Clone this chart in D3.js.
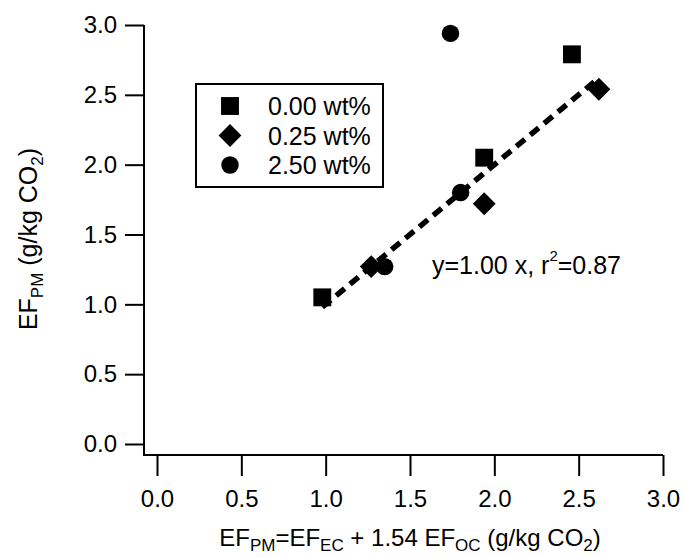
<!DOCTYPE html>
<html>
<head>
<meta charset="utf-8">
<script src="https://cdn.jsdelivr.net/npm/d3@7"></script>
<style>
  body { margin: 0; background: #fff; }
  text { font-family: "Liberation Sans", Arial, sans-serif; fill: #000; }
</style>
</head>
<body>
<script>
// series: x = EF_EC + 1.54 EF_OC, y = EF_PM
const seriesNames = ["0.00 wt%", "0.25 wt%", "2.50 wt%"];
const squareX = [0.98, 1.94, 2.46];
const squareY = [1.05, 2.05, 2.79];
const diamondX = [1.27, 1.94, 2.62];
const diamondY = [1.27, 1.72, 2.54];
const circleX = [1.74, 1.80, 1.35];
const circleY = [2.94, 1.80, 1.27];
const fitSlope = 1.00;
const fitRange = [0.98, 2.62];
const xTicks = [0, 0.5, 1, 1.5, 2, 2.5, 3];
const yTicks = [0, 0.5, 1, 1.5, 2, 2.5, 3];

const width = 684, height = 557;

var svg = d3.select("body").append("svg")
  .attr("width", width)
  .attr("height", height);

var x = d3.scaleLinear().domain([0, 3]).range([157, 663]);
var y = d3.scaleLinear().domain([0, 3]).range([444, 25]);

const xAxisY = 455, yAxisX = 144;

// axes (Igor style, offset)
var xAxis = svg.append("g")
  .attr("transform", `translate(0,${xAxisY})`)
  .call(d3.axisBottom(x).tickValues(xTicks).tickSize(21).tickPadding(14).tickFormat(d3.format(".1f")).tickSizeOuter(0));
var yAxis = svg.append("g")
  .attr("transform", `translate(${yAxisX},0)`)
  .call(d3.axisLeft(y).tickValues(yTicks).tickSize(19).tickPadding(8).tickFormat(d3.format(".1f")).tickSizeOuter(0));

[xAxis, yAxis].forEach(ax => {
  ax.select(".domain").remove();
  ax.selectAll("line").attr("stroke", "#000").attr("stroke-width", 2);
  ax.selectAll("text").style("font-size", "24px").attr("fill", "#000");
});

// axis lines
svg.append("path")
  .attr("d", `M${yAxisX},${y(3)}V${xAxisY}H${x(3)}`)
  .attr("fill", "none").attr("stroke", "#000").attr("stroke-width", 2);

// fit line
svg.append("line")
  .attr("x1", x(fitRange[0])).attr("y1", y(fitRange[0] * fitSlope))
  .attr("x2", x(fitRange[1])).attr("y2", y(fitRange[1] * fitSlope))
  .attr("stroke", "#000").attr("stroke-width", 5.5)
  .attr("stroke-dasharray", "11,7");

const sym = {
  square: d3.symbol(d3.symbolSquare, 320),
  diamond: d3.symbol(d3.symbolSquare, 260),
  circle: d3.symbol(d3.symbolCircle, 240)
};

function drawSeries(xs, ys, type) {
  svg.append("g").selectAll("path")
    .data(xs.map((v, i) => [v, ys[i]]))
    .join("path")
      .attr("d", sym[type]())
      .attr("transform", d => `translate(${x(d[0])},${y(d[1])})` + (type == "diamond" ? " rotate(45)" : ""))
      .attr("fill", "#000");
}
drawSeries(squareX, squareY, "square");
drawSeries(diamondX, diamondY, "diamond");
drawSeries(circleX, circleY, "circle");

// legend
var legend = svg.append("g");
legend.append("rect")
  .attr("x", 196).attr("y", 84).attr("width", 187).attr("height", 103)
  .attr("fill", "#fff").attr("stroke", "#000").attr("stroke-width", 2);
const legendTypes = ["square", "diamond", "circle"];
seriesNames.forEach((name, i) => {
  const ly = 106 + i * 29.5;
  legend.append("path")
    .attr("d", sym[legendTypes[i]]())
    .attr("transform", `translate(230,${ly})` + (legendTypes[i] == "diamond" ? " rotate(45)" : ""))
    .attr("fill", "#000");
  legend.append("text")
    .attr("x", 268).attr("y", ly)
    .attr("dy", "0.36em")
    .style("font-size", "25px")
    .text(name);
});

// equation annotation
var eq = svg.append("text")
  .attr("x", 432).attr("y", 274)
  .style("font-size", "25px");
eq.append("tspan").text("y=1.00 x, r");
eq.append("tspan").attr("dy", -13).style("font-size", "15px").text("2");
eq.append("tspan").attr("dy", 13).text("=0.87");

// x axis title
var xt = svg.append("text")
  .attr("x", 410).attr("y", 546)
  .attr("text-anchor", "middle")
  .style("font-size", "24px");
xt.append("tspan").text("EF");
xt.append("tspan").attr("dy", 5).style("font-size", "17px").text("PM");
xt.append("tspan").attr("dy", -5).text("=EF");
xt.append("tspan").attr("dy", 5).style("font-size", "17px").text("EC");
xt.append("tspan").attr("dy", -5).text(" + 1.54 EF");
xt.append("tspan").attr("dy", 5).style("font-size", "17px").text("OC");
xt.append("tspan").attr("dy", -5).text(" (g/kg CO");
xt.append("tspan").attr("dy", 5).style("font-size", "17px").text("2");
xt.append("tspan").attr("dy", -5).text(")");

// y axis title
var yt = svg.append("text")
  .attr("transform", "translate(37,239) rotate(-90)")
  .attr("text-anchor", "middle")
  .style("font-size", "25px");
yt.append("tspan").text("EF");
yt.append("tspan").attr("dy", 6).style("font-size", "17px").text("PM");
yt.append("tspan").attr("dy", -6).text(" (g/kg CO");
yt.append("tspan").attr("dy", 6).style("font-size", "17px").text("2");
yt.append("tspan").attr("dy", -6).text(")");
</script>
</body>
</html>
